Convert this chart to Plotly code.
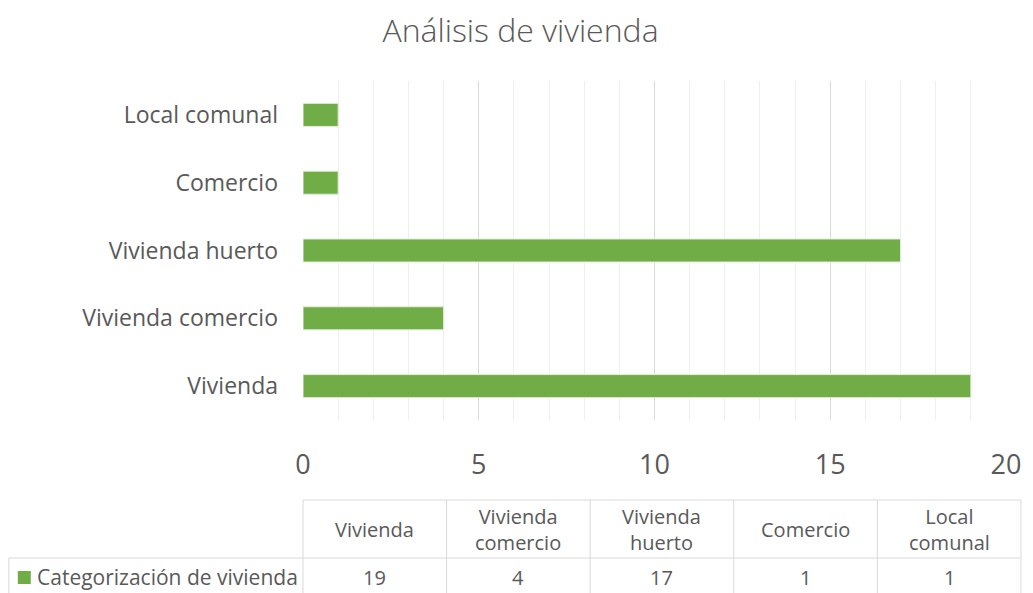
import plotly.graph_objects as go

categories = ["Vivienda", "Vivienda comercio", "Vivienda huerto", "Comercio", "Local comunal"]
values = [19, 4, 17, 1, 1]
series_name = "Categorización de vivienda"
x_ticks = [0, 5, 10, 15, 20]
title_text = "Análisis de vivienda"

OFF = 8  # page body margin in the browser
W, H = 1033 - OFF, 593 - OFF
PL, PR, PT, PB = 303, 1008, 81, 420  # plot area in screen pixels
FONT = "Open Sans"
TXT = "#595959"
GREEN = "#70ad47"
GRID = "#d9d9d9"

def px_x(p):
    return (p - PL) / (PR - PL)

def px_y(p):
    return (PB - p) / (PB - PT)

fig = go.Figure()
fig.add_trace(go.Bar(
    x=values, y=categories, orientation="h", name=series_name,
    marker=dict(color=GREEN, line=dict(color="#e2efd9", width=1)),
    showlegend=False, hoverinfo="x+y",
))

shapes = []
annotations = []
t_top, t_mid, t_bot = 500, 558, 600
col_left, col_w = 303, 144
n = len(categories)
line = dict(color=GRID, width=1)
shapes.append(dict(type="line", xref="paper", yref="paper",
                   x0=px_x(col_left), x1=px_x(col_left + n * col_w),
                   y0=px_y(t_top), y1=px_y(t_top), line=line))
shapes.append(dict(type="line", xref="paper", yref="paper",
                   x0=px_x(8), x1=px_x(col_left + n * col_w),
                   y0=px_y(t_mid), y1=px_y(t_mid), line=line))
shapes.append(dict(type="line", xref="paper", yref="paper",
                   x0=px_x(8), x1=px_x(8),
                   y0=px_y(t_mid), y1=px_y(t_bot), line=line))
for i in range(n + 1):
    xp = col_left + i * col_w
    shapes.append(dict(type="line", xref="paper", yref="paper",
                       x0=px_x(xp), x1=px_x(xp),
                       y0=px_y(t_top), y1=px_y(t_bot), line=line))
for i, (c, v) in enumerate(zip(categories, values)):
    cx = col_left + (i + 0.5) * col_w
    annotations.append(dict(xref="paper", yref="paper", x=px_x(cx), y=px_y((t_top + t_mid) / 2),
                            text=c.replace(" ", "<br>", 1), showarrow=False,
                            xanchor="center", yanchor="middle",
                            font=dict(family=FONT, size=20, color=TXT)))
    annotations.append(dict(xref="paper", yref="paper", x=px_x(cx), y=px_y(577),
                            text=str(v), showarrow=False,
                            xanchor="center", yanchor="middle",
                            font=dict(family=FONT, size=20, color=TXT)))
shapes.append(dict(type="rect", xref="paper", yref="paper",
                   x0=px_x(17), x1=px_x(30), y0=px_y(571), y1=px_y(584),
                   fillcolor=GREEN, line=dict(width=0)))
annotations.append(dict(xref="paper", yref="paper", x=px_x(34), y=px_y(577),
                        text=series_name, showarrow=False,
                        xanchor="left", yanchor="middle",
                        font=dict(family=FONT, size=21, color=TXT)))

fig.update_layout(
    width=W, height=H,
    margin=dict(l=PL - OFF, r=1033 - PR, t=PT - OFF, b=593 - PB, pad=0),
    paper_bgcolor="white", plot_bgcolor="white",
    title=dict(text=title_text, x=0.5, xanchor="center", y=1 - (31 - OFF) / H, yanchor="middle",
               yref="container", font=dict(family=FONT, size=32, color=TXT, weight=300)),
    bargap=0.66,
    xaxis=dict(range=[0, 20], tickvals=x_ticks, showgrid=True, gridcolor=GRID, gridwidth=1,
               minor=dict(dtick=1, showgrid=True, gridcolor="#efefef", gridwidth=1),
               zeroline=False, showline=False, ticks="",
               ticklabelstandoff=26,
               tickfont=dict(family=FONT, size=27, color=TXT), fixedrange=True),
    yaxis=dict(showgrid=False, zeroline=False, showline=False, ticks="",
               ticklabelstandoff=24,
               tickfont=dict(family=FONT, size=23, color=TXT), fixedrange=True),
    shapes=shapes, annotations=annotations,
    font=dict(family=FONT, color=TXT),
)

fig.write_html("out.html")
